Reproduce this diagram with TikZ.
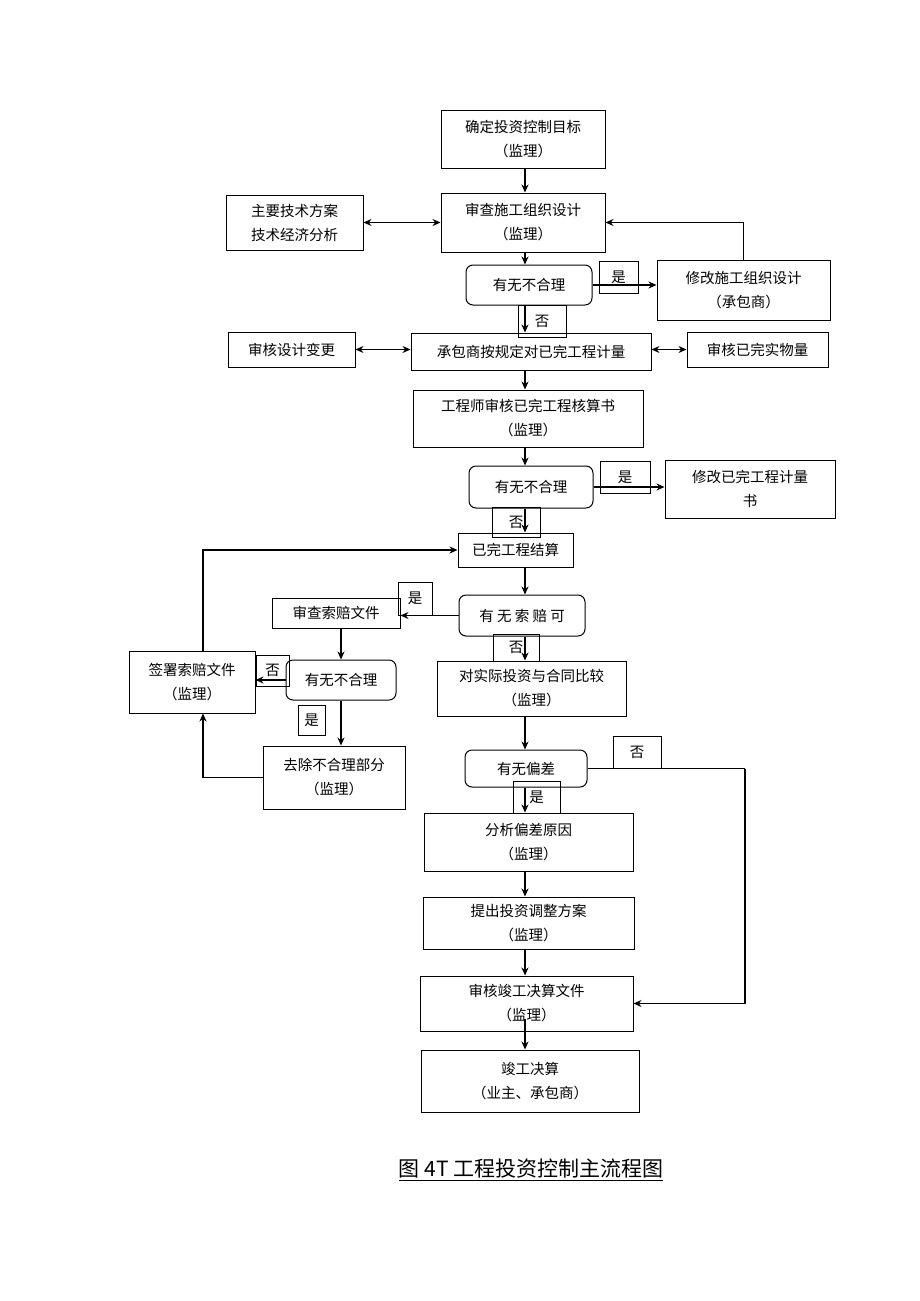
\documentclass[tikz,border=0pt]{standalone}
\usepackage{fontspec}
\newfontfamily\cjk{Noto Sans CJK SC}
\usepackage{tikz}
\usetikzlibrary{arrows.meta}

\tikzset{
	box/.style={draw,line width=1pt,align=center,inner sep=0pt,font=\cjk\fontsize{14.5}{24}\selectfont},
	dec/.style={box,rounded corners=7pt},
	tag/.style={draw,line width=0.9pt,inner sep=0pt,font=\cjk\fontsize{14.5}{16}\selectfont},
	flow/.style={->,line width=1.2pt},
	both/.style={<->,line width=1.2pt}
}

\begin{document}
\begin{tikzpicture}[x=1pt,y=-1pt,>={Stealth[length=8pt,width=7pt]}]
	\useasboundingbox (0,0) rectangle (920,1301);
	\coordinate (spine) at (525,0);
	\coordinate (rt) at (745,0);

	% main column
	\node[box,minimum width=164,minimum height=58] (goal) at (523,139)   {确定投资控制目标\\（监理）};
	\node[box,minimum width=164,minimum height=59] (org)  at (523,222.5) {审查施工组织设计\\（监理）};
	\node[box,minimum width=137,minimum height=55] (tech) at (294.5,222.5) {主要技术方案\\技术经济分析};
	\node[dec,minimum width=126,minimum height=40] (chk1) at (529,285)   {有无不合理};
	\node[box,minimum width=173,minimum height=60] (fix1) at (743.5,290) {修改施工组织设计\\（承包商）};
	\node[box,minimum width=240,minimum height=37] (meas) at (531,351.5) {承包商按规定对已完工程计量};
	\node[box,minimum width=127,minimum height=35] (chg)  at (291.5,349.5) {审核设计变更};
	\node[box,minimum width=141,minimum height=35] (qty)  at (757.5,349.5) {审核已完实物量};
	\node[box,minimum width=230,minimum height=57] (eng)  at (528,418.5) {工程师审核已完工程核算书\\（监理）};
	\node[dec,minimum width=124,minimum height=42] (chk2) at (531,487)   {有无不合理};
	\node[box,minimum width=170,minimum height=58] (fix2) at (750,489)   {修改已完工程计量\\书};
	\node[box,minimum width=115,minimum height=34] (fin)  at (515.5,550) {已完工程结算};
	\node[dec,minimum width=126,minimum height=41] (clm)  at (522,615.5) {有 无 索 赔 可};
	\node[box,minimum width=189,minimum height=55] (cmp)  at (531.5,688.5) {对实际投资与合同比较\\（监理）};
	\node[dec,minimum width=122,minimum height=37] (dev)  at (526,768.5) {有无偏差};
	\node[box,minimum width=209,minimum height=58] (why)  at (528.5,842) {分析偏差原因\\（监理）};
	\node[box,minimum width=211,minimum height=52] (adj)  at (528.5,923) {提出投资调整方案\\（监理）};
	\node[box,minimum width=213,minimum height=55] (aud)  at (526.5,1003.5) {审核竣工决算文件\\（监理）};
	\node[box,minimum width=218,minimum height=62] (done) at (530,1081)  {竣工决算\\（业主、承包商）};

	% claims branch
	\node[box,minimum width=128,minimum height=30] (rev)  at (336,613)   {审查索赔文件};
	\node[dec,minimum width=110,minimum height=40] (chk3) at (341,680)   {有无不合理};
	\node[box,minimum width=126,minimum height=62] (sign) at (192,682)   {签署索赔文件\\（监理）};
	\node[box,minimum width=142,minimum height=63] (cut)  at (334,777.5) {去除不合理部分\\（监理）};

	% yes / no tags
	\node[tag,minimum width=39,minimum height=32] (y1) at (618.5,277) {是};
	\node[tag,minimum width=48,minimum height=32] (n1) at (542,321)   {否};
	\node[tag,minimum width=50,minimum height=32] (y2) at (625,477)   {是};
	\node[tag,minimum width=48,minimum height=30] (n2) at (516,522)   {否};
	\node[tag,minimum width=34,minimum height=33] (y3) at (415,598.5) {是};
	\node[tag,minimum width=46,minimum height=27] (n3) at (516,647.5) {否};
	\node[tag,minimum width=33,minimum height=31] (n4) at (272.5,670.5) {否};
	\node[tag,minimum width=27,minimum height=30] (y4) at (311.5,720) {是};
	\node[tag,minimum width=48,minimum height=32] (n5) at (637,752)   {否};
	\node[tag,minimum width=47,minimum height=32] (y5) at (536.5,797) {是};

	\node[font=\cjk\fontsize{21}{24}\selectfont] (cap) at (531,1170) {\underline{图 4T 工程投资控制主流程图}};

	\draw[flow] (goal.south -| spine)--(org.north -| spine);		%goal--org
	\draw[both] (tech.east)--(org.west);					%tech--org
	\draw[flow] (org.south -| spine)--(chk1.north -| spine);		%org--chk1
	\draw[flow] (chk1.east)--(chk1.east -| fix1.west);			%yes
	\draw[flow] (fix1.north) |- (org.east);					%back to org
	\draw[flow] (chk1.south -| spine)--(meas.north -| spine);		%no
	\draw[both] (chg.east)--(chg.east -| meas.west);			%chg--meas
	\draw[both] (qty.west -| meas.east)--(qty.west);			%meas--qty
	\draw[flow] (meas.south -| spine)--(eng.north -| spine);		%meas--eng
	\draw[flow] (eng.south -| spine)--(chk2.north -| spine);		%eng--chk2
	\draw[flow] (chk2.east)--(chk2.east -| fix2.west);			%yes
	\draw[flow] (chk2.south -| spine)--(fin.north -| spine);		%no
	\draw[flow] (fin.south -| spine)--(clm.north -| spine);		%fin--clm
	\draw[flow] (clm.west)--(clm.west -| rev.east);			%yes
	\draw[flow] (rev.south -| chk3.north)--(chk3.north);			%rev--chk3
	\draw[flow] (chk3.west)--(chk3.west -| sign.east);			%no
	\draw[flow] (chk3.south)--(chk3.south |- cut.north);			%yes
	\draw[flow] (cut.west) -| ([xshift=11pt]sign.south);			%cut--sign
	\draw[flow] ([xshift=11pt]sign.north) |- (fin.west);			%sign--fin
	\draw[flow] (clm.south -| spine)--(cmp.north -| spine);		%no
	\draw[flow] (cmp.south -| spine)--(dev.north -| spine);		%cmp--dev
	\draw[flow] (dev.south -| spine)--(why.north -| spine);		%yes
	\draw[line width=1.2pt] (dev.east)--(dev.east -| rt);			%no
	\draw[flow] (dev.east -| rt) |- (aud.east);
	\draw[flow] (why.south -| spine)--(adj.north -| spine);		%why--adj
	\draw[flow] (adj.south -| spine)--(aud.north -| spine);		%adj--aud
	\draw[flow] ([yshift=13pt]aud.south -| spine)--(done.north -| spine);	%aud--done
\end{tikzpicture}
\end{document}
